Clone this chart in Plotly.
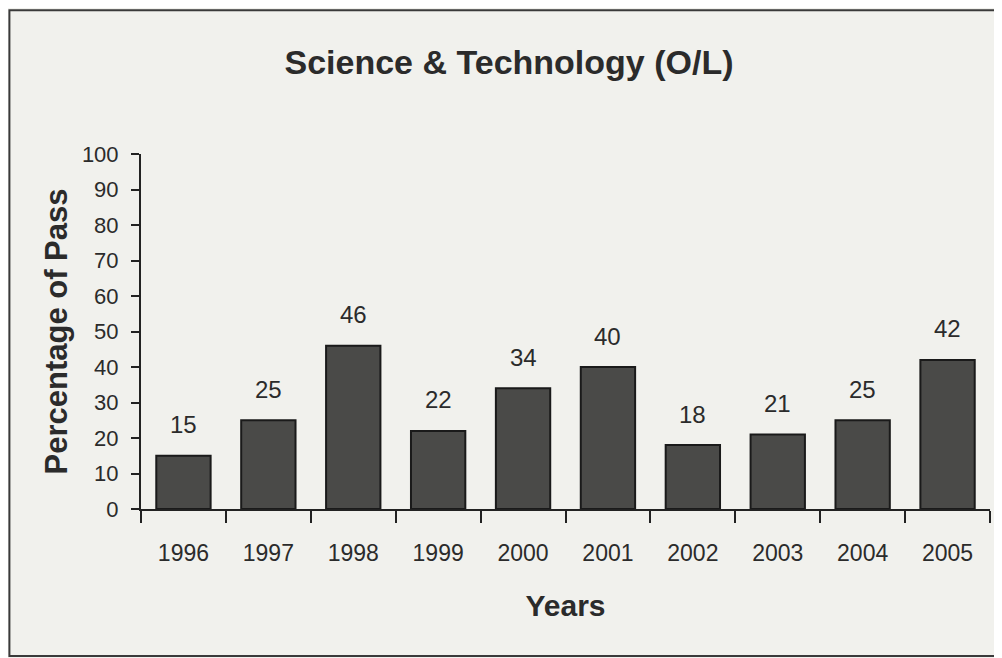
import plotly.graph_objects as go

years = ['1996', '1997', '1998', '1999', '2000', '2001', '2002', '2003', '2004', '2005']
pass_pct = [15, 25, 46, 22, 34, 40, 18, 21, 25, 42]
y_ticks = [0, 10, 20, 30, 40, 50, 60, 70, 80, 90, 100]

FONT = "Liberation Sans, Arial"
INK = '#2b2b2b'
PAPER = '#f1f1ed'

fig = go.Figure()
fig.add_trace(go.Bar(
    x=years,
    y=pass_pct,
    width=0.64,
    marker=dict(color='#4a4a48', line=dict(color='#1a1a1a', width=2)),
    hoverinfo='x+y',
))

# valeurs au-dessus des barres (x = index de catégorie, les années ressemblent à des nombres)
for i, v in enumerate(pass_pct):
    fig.add_annotation(
        x=i, y=v, text=str(v), showarrow=False,
        yanchor='middle', yshift=31,
        font=dict(family=FONT, size=24, color=INK),
    )

# cadre du scan
fig.add_shape(
    type='rect', xref='paper', yref='paper',
    x0=-0.155, x1=1.03, y0=-0.414, y1=1.405,
    line=dict(color='#3a3a3a', width=2), fillcolor='rgba(0,0,0,0)',
)

fig.update_layout(
    title=dict(
        text="<b>Science & Technology (O/L)</b>",
        x=0.5, xanchor='center', y=0.918, yanchor='middle',
        font=dict(family=FONT, size=34, color=INK),
    ),
    width=1002, height=658,
    margin=dict(l=133, r=20, t=146, b=157),
    paper_bgcolor=PAPER, plot_bgcolor=PAPER,
    showlegend=False,
    bargap=0.36,
)

fig.update_xaxes(
    type='category', range=[-0.5, len(years) - 0.5],
    title=dict(text="<b>Years</b>", font=dict(family=FONT, size=30, color=INK), standoff=30),
    showline=True, linecolor='#222', linewidth=2,
    ticks='outside', tickson='boundaries', ticklen=12, tickwidth=1.5, tickcolor='#222',
    tickfont=dict(family=FONT, size=23, color=INK),
    ticklabelstandoff=22,
    showgrid=False,
)
fig.update_yaxes(
    title=dict(text="<b>Percentage of Pass</b>", font=dict(family=FONT, size=31, color=INK), standoff=5),
    range=[0, 100], tickvals=y_ticks,
    showline=True, linecolor='#222', linewidth=2,
    ticks='outside', ticklen=8, tickwidth=1.5, tickcolor='#222',
    tickfont=dict(family=FONT, size=22, color=INK),
    ticklabelstandoff=8,
    showgrid=False, zeroline=False,
)

fig.write_html("out.html")
